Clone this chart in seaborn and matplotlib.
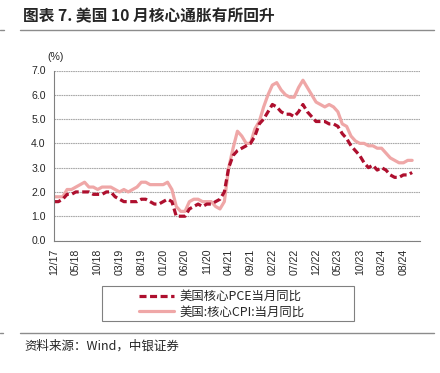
import numpy as np
import pandas as pd
import matplotlib
matplotlib.use("Agg")
import matplotlib.pyplot as plt
from matplotlib.lines import Line2D
from matplotlib.patches import Rectangle
import seaborn as sns

# ---- data (Dec 2017 .. Oct 2024, monthly) ----
months = pd.period_range("2017-12", "2024-10", freq="M")
core_pce = [1.6,
            1.6, 1.7, 1.9, 1.9, 2.0, 2.0, 2.0, 2.0, 1.9, 1.9, 1.9, 2.0,
            2.0, 1.8, 1.7, 1.6, 1.6, 1.6, 1.6, 1.7, 1.7, 1.6, 1.5, 1.5,
            1.6, 1.7, 1.6, 1.0, 1.0, 1.0, 1.3, 1.4, 1.5, 1.4, 1.5, 1.5,
            1.6, 1.7, 2.0, 3.0, 3.5, 3.7, 3.8, 3.9, 4.0, 4.3, 4.8, 5.0,
            5.3, 5.6, 5.5, 5.3, 5.2, 5.2, 5.1, 5.3, 5.6, 5.3, 5.1, 4.9,
            4.9, 4.9, 4.8, 4.8, 4.7, 4.4, 4.2, 3.9, 3.7, 3.5, 3.2, 3.0,
            3.1, 2.9, 3.0, 2.9, 2.7, 2.6, 2.6, 2.7, 2.7, 2.8]
core_cpi = [1.8,
            1.8, 1.8, 2.1, 2.1, 2.2, 2.3, 2.4, 2.2, 2.2, 2.1, 2.2, 2.2,
            2.2, 2.1, 2.0, 2.1, 2.0, 2.1, 2.2, 2.4, 2.4, 2.3, 2.3, 2.3,
            2.3, 2.4, 2.1, 1.4, 1.2, 1.2, 1.6, 1.7, 1.7, 1.6, 1.6, 1.6,
            1.4, 1.3, 1.6, 3.0, 3.8, 4.5, 4.3, 4.0, 4.0, 4.6, 4.9, 5.5,
            6.0, 6.4, 6.5, 6.2, 6.0, 5.9, 5.9, 6.3, 6.6, 6.3, 6.0, 5.7,
            5.6, 5.5, 5.6, 5.5, 5.3, 4.8, 4.7, 4.3, 4.1, 4.0, 4.0, 3.9,
            3.9, 3.8, 3.8, 3.6, 3.4, 3.3, 3.2, 3.2, 3.3, 3.3]
series_names = ["美国核心PCE当月同比", "美国:核心CPI:当月同比"]
yticks = [0.0, 1.0, 2.0, 3.0, 4.0, 5.0, 6.0, 7.0]
tick_every = 5

title = "图表 7. 美国 10 月核心通胀有所回升"
source = "资料来源：Wind，中银证券"

# ---- styling ----
sns.set_style("white")
plt.rcParams["font.family"] = ["Liberation Sans", "Noto Sans CJK SC", "DejaVu Sans"]
CJK = ["Noto Sans CJK SC", "DejaVu Sans"]

pce_color = "#AE0F2E"
cpi_color = "#EFA7A7"

idx = np.arange(len(months))
df = pd.DataFrame({
    "idx": np.concatenate([idx, idx]),
    "value": core_pce + core_cpi,
    "series": [series_names[0]] * len(idx) + [series_names[1]] * len(idx),
})

fig = plt.figure(figsize=(4.40, 3.73), dpi=100)
ax = fig.add_axes([54 / 440, 1 - 240.5 / 373, (420 - 54) / 440, 170 / 373])

sns.lineplot(data=df[df.series == series_names[1]], x="idx", y="value", ax=ax,
             color=cpi_color, lw=2.3, legend=False, solid_joinstyle="round")
sns.lineplot(data=df[df.series == series_names[0]], x="idx", y="value", ax=ax,
             color=pce_color, lw=2.3, legend=False)
ax.lines[1].set_dashes((2.2, 1.1))
ax.lines[1].set_dash_capstyle("butt")

ax.set_xlim(0, 83.8)
ax.set_ylim(0, 7)
ax.set_yticks(yticks)
ax.set_yticklabels([f"{v:.1f}" for v in yticks], fontsize=7.6)
tick_pos = idx[::tick_every]
ax.set_xticks(tick_pos)
ax.set_xticklabels([months[i].strftime("%m/%y") for i in tick_pos],
                   rotation=90, fontsize=7.6)
ax.set_xlabel("")
ax.set_ylabel("")
ax.grid(axis="y", color="#A8A8A8", lw=0.8, ls=(0, (1.5, 0.6)))
ax.grid(axis="x", visible=False)
for s in ["top", "right"]:
    ax.spines[s].set_visible(False)
ax.spines["left"].set_color("#808080")
ax.spines["left"].set_linewidth(0.8)
ax.spines["bottom"].set_color("#808080")
ax.spines["bottom"].set_linewidth(0.8)
ax.tick_params(axis="x", direction="out", length=4, width=0.8, color="#808080", pad=2)
ax.tick_params(axis="y", direction="out", length=3, width=0.8, color="#808080", pad=3)

# (%) label
fig.text(56 / 440, 1 - 57 / 373, "(%)", fontsize=7.6, ha="center", va="center")

# legend (frame drawn separately to match the wide reference box)
handles = [Line2D([], [], color=pce_color, lw=2.3, dashes=(2.2, 1.1), dash_capstyle="butt"),
           Line2D([], [], color=cpi_color, lw=2.3)]
leg = fig.legend(handles, series_names, loc="upper left",
                 bbox_to_anchor=(139 / 440, 1 - 290 / 373),
                 frameon=False, prop={"family": CJK, "size": 8.9},
                 handlelength=2.85, handletextpad=0.45, labelspacing=0.2,
                 borderpad=0.0, borderaxespad=0)
fig.add_artist(Rectangle((102 / 440, 1 - 321 / 373), 252 / 440, 35 / 373,
                         transform=fig.transFigure, fill=False,
                         edgecolor="#808080", lw=0.8))

# title and header rules
fig.text(23 / 440, 1 - 16 / 373, title, fontsize=11.3, fontweight="bold",
         family=CJK, ha="left", va="center")
fig.add_artist(Line2D([20 / 440, 434 / 440], [1 - 29.5 / 373] * 2,
                      color="#8C8C8C", lw=1.0, transform=fig.transFigure))
fig.add_artist(Line2D([0, 4 / 440], [1 - 30 / 373] * 2,
                      color="#8C8C8C", lw=1.0, transform=fig.transFigure))
fig.add_artist(Line2D([20 / 440, 434 / 440], [1 - 333 / 373] * 2,
                      color="#8C8C8C", lw=1.0, transform=fig.transFigure))
fig.add_artist(Line2D([0, 3 / 440], [1 - 333 / 373] * 2,
                      color="#8C8C8C", lw=1.0, transform=fig.transFigure))
fig.text(24 / 440, 1 - 346 / 373, source, fontsize=9, style="italic",
         family=CJK, ha="left", va="center")

fig.savefig("out.png", dpi=100)
